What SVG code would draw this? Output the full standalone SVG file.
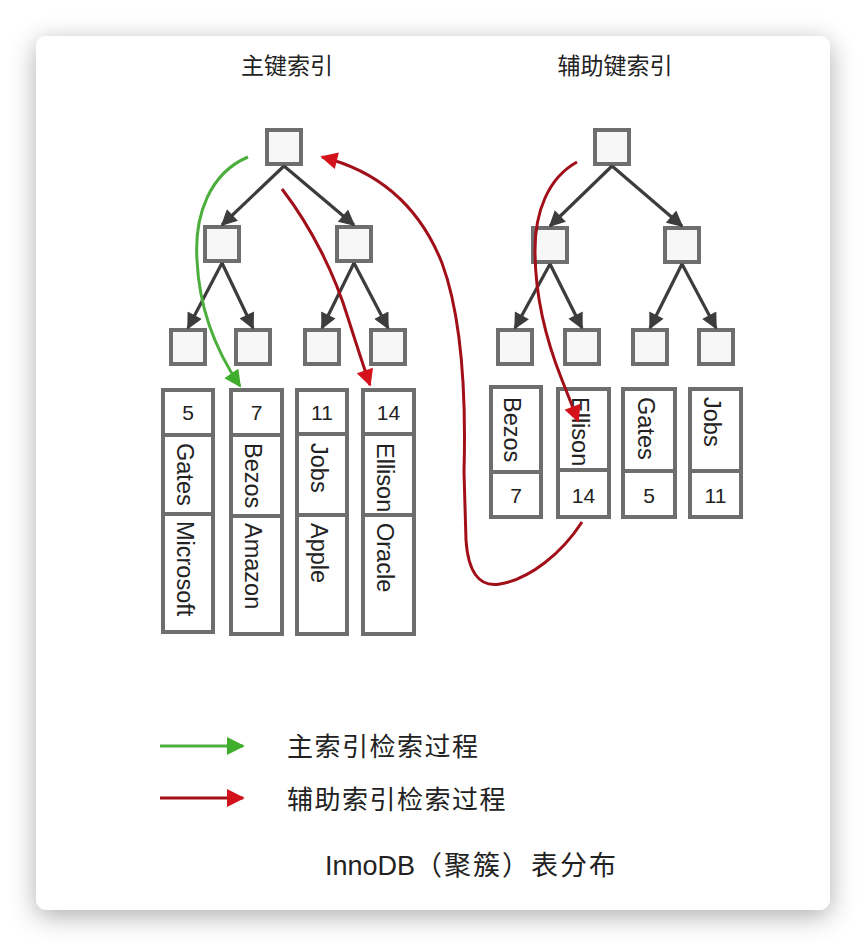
<svg xmlns="http://www.w3.org/2000/svg" width="866" height="946" viewBox="0 0 866 946">
  <defs>
    <filter id="shadow" x="-10%" y="-10%" width="120%" height="125%">
      <feDropShadow dx="0" dy="6" stdDeviation="13" flood-color="#000" flood-opacity="0.32"/>
    </filter>
    <marker id="arrGray" viewBox="0 0 10 10" refX="9" refY="5" markerWidth="17" markerHeight="16" markerUnits="userSpaceOnUse" orient="auto">
      <path d="M0,0 L10,5 L0,10 z" fill="#3c3c3c"/>
    </marker>
    <marker id="arrGreen" viewBox="0 0 10 10" refX="9" refY="5" markerWidth="18" markerHeight="17" markerUnits="userSpaceOnUse" orient="auto">
      <path d="M0,0 L10,5 L0,10 z" fill="#3fae2c"/>
    </marker>
    <marker id="arrRed" viewBox="0 0 10 10" refX="9" refY="5" markerWidth="18" markerHeight="17" markerUnits="userSpaceOnUse" orient="auto">
      <path d="M0,0 L10,5 L0,10 z" fill="#d3121c"/>
    </marker>
    <marker id="arrGreenL" viewBox="0 0 10 10" refX="9" refY="5" markerWidth="18" markerHeight="19" markerUnits="userSpaceOnUse" orient="auto">
      <path d="M0,0 L10,5 L0,10 z" fill="#3fae2c"/>
    </marker>
    <marker id="arrRedL" viewBox="0 0 10 10" refX="9" refY="5" markerWidth="18" markerHeight="19" markerUnits="userSpaceOnUse" orient="auto">
      <path d="M0,0 L10,5 L0,10 z" fill="#d3121c"/>
    </marker>
  </defs>
  <style>
    .box { fill: #f7f7f7; stroke: #6e6e6e; stroke-width: 4; }
    .rec { fill: #ffffff; stroke: #6e6e6e; stroke-width: 4; }
    .div { stroke: #6e6e6e; stroke-width: 4; }
    .edge { stroke: #3c3c3c; stroke-width: 3.2; fill: none; marker-end: url(#arrGray); }
    .green { stroke: #4cae3c; stroke-width: 3; fill: none; }
    .red { stroke: #a10f19; stroke-width: 3; fill: none; }
    .num { font-family: "Liberation Sans", Arial, sans-serif; font-size: 21px; fill: #222; text-anchor: middle; }
    .name { font-family: "Liberation Sans", Arial, sans-serif; font-size: 23.5px; fill: #222; }
    .title { font-family: "Noto Sans CJK SC", sans-serif; font-size: 23px; fill: #222; text-anchor: middle; }
    .legend { font-family: "Noto Sans CJK SC", sans-serif; font-size: 26px; fill: #222; letter-spacing: 1.5px; }
    .caption { font-family: "Liberation Sans", "Noto Sans CJK SC", sans-serif; font-size: 27px; fill: #222; }
  </style>

  <rect x="0" y="0" width="866" height="946" fill="#ffffff"/>
  <rect id="card" x="36" y="36" width="794" height="874" rx="11" ry="11" fill="#ffffff" filter="url(#shadow)"/>

  <text class="title" x="287" y="74">主键索引</text>
  <text class="title" x="615" y="74">辅助键索引</text>

  <!-- Primary index tree -->
  <g id="p-root"><rect class="box" x="267" y="130" width="34" height="34"/></g>
  <g id="p-l2a"><rect class="box" x="205" y="227" width="34" height="34"/></g>
  <g id="p-l2b"><rect class="box" x="337" y="227" width="34" height="34"/></g>
  <g id="p-l3a"><rect class="box" x="171" y="330" width="34" height="34"/></g>
  <g id="p-l3b"><rect class="box" x="236" y="330" width="34" height="34"/></g>
  <g id="p-l3c"><rect class="box" x="305" y="330" width="34" height="34"/></g>
  <g id="p-l3d"><rect class="box" x="371" y="330" width="34" height="34"/></g>

  <!-- Secondary index tree -->
  <g id="s-root"><rect class="box" x="595" y="130" width="34" height="34"/></g>
  <g id="s-l2a"><rect class="box" x="533" y="228" width="34" height="34"/></g>
  <g id="s-l2b"><rect class="box" x="665" y="228" width="34" height="34"/></g>
  <g id="s-l3a"><rect class="box" x="498" y="330" width="34" height="34"/></g>
  <g id="s-l3b"><rect class="box" x="565" y="330" width="34" height="34"/></g>
  <g id="s-l3c"><rect class="box" x="633" y="330" width="34" height="34"/></g>
  <g id="s-l3d"><rect class="box" x="699" y="330" width="34" height="34"/></g>

  <!-- Primary records -->
  <g id="p-rec-5">
    <rect class="rec" x="163" y="390" width="50" height="242"/>
    <line class="div" x1="163" y1="435" x2="213" y2="435"/>
    <line class="div" x1="163" y1="514" x2="213" y2="514"/>
    <text class="num" x="188" y="420">5</text>
    <text class="name" transform="translate(177,443) rotate(90)">Gates</text>
    <text class="name" transform="translate(177,521) rotate(90)">Microsoft</text>
  </g>
  <g id="p-rec-7">
    <rect class="rec" x="231" y="390" width="51" height="244"/>
    <line class="div" x1="231" y1="435" x2="282" y2="435"/>
    <line class="div" x1="231" y1="516" x2="282" y2="516"/>
    <text class="num" x="256.5" y="420">7</text>
    <text class="name" transform="translate(245,443) rotate(90)">Bezos</text>
    <text class="name" transform="translate(245,523) rotate(90)">Amazon</text>
  </g>
  <g id="p-rec-11">
    <rect class="rec" x="297" y="390" width="50" height="244"/>
    <line class="div" x1="297" y1="434" x2="347" y2="434"/>
    <line class="div" x1="297" y1="515" x2="347" y2="515"/>
    <text class="num" x="322" y="420">11</text>
    <text class="name" transform="translate(311,443) rotate(90)">Jobs</text>
    <text class="name" transform="translate(311,523) rotate(90)">Apple</text>
  </g>
  <g id="p-rec-14">
    <rect class="rec" x="363" y="390" width="51" height="244"/>
    <line class="div" x1="363" y1="434" x2="414" y2="434"/>
    <line class="div" x1="363" y1="515" x2="414" y2="515"/>
    <text class="num" x="388.5" y="420">14</text>
    <text class="name" transform="translate(377,443) rotate(90)">Ellison</text>
    <text class="name" transform="translate(377,523) rotate(90)">Oracle</text>
  </g>

  <!-- Secondary records -->
  <g id="s-rec-bezos">
    <rect class="rec" x="491" y="387" width="50" height="130"/>
    <line class="div" x1="491" y1="472" x2="541" y2="472"/>
    <text class="name" transform="translate(504,397) rotate(90)">Bezos</text>
    <text class="num" x="516" y="503">7</text>
  </g>
  <g id="s-rec-ellison">
    <rect class="rec" x="558" y="389" width="51" height="128"/>
    <line class="div" x1="558" y1="470" x2="609" y2="470"/>
    <text class="name" transform="translate(572,397) rotate(90)">Ellison</text>
    <text class="num" x="583.5" y="503">14</text>
  </g>
  <g id="s-rec-gates">
    <rect class="rec" x="623" y="389" width="52" height="128"/>
    <line class="div" x1="623" y1="471" x2="675" y2="471"/>
    <text class="name" transform="translate(638,397) rotate(90)">Gates</text>
    <text class="num" x="649" y="503">5</text>
  </g>
  <g id="s-rec-jobs">
    <rect class="rec" x="690" y="389" width="51" height="128"/>
    <line class="div" x1="690" y1="471" x2="741" y2="471"/>
    <text class="name" transform="translate(704,397) rotate(90)">Jobs</text>
    <text class="num" x="715.5" y="503">11</text>
  </g>

  <!-- Connectors -->
  <g id="connectors">
    <line class="edge" x1="284" y1="166" x2="222" y2="225"/>
    <line class="edge" x1="284" y1="166" x2="354" y2="225"/>
    <line class="edge" x1="222" y1="263" x2="188" y2="328"/>
    <line class="edge" x1="222" y1="263" x2="253" y2="328"/>
    <line class="edge" x1="354" y1="263" x2="322" y2="328"/>
    <line class="edge" x1="354" y1="263" x2="388" y2="328"/>

    <line class="edge" x1="612" y1="166" x2="550" y2="226"/>
    <line class="edge" x1="612" y1="166" x2="682" y2="226"/>
    <line class="edge" x1="550" y1="264" x2="515" y2="328"/>
    <line class="edge" x1="550" y1="264" x2="582" y2="328"/>
    <line class="edge" x1="682" y1="264" x2="650" y2="328"/>
    <line class="edge" x1="682" y1="264" x2="716" y2="328"/>

    <path id="green-path" class="green" marker-end="url(#arrGreen)" d="M248,157 C210,173 194,215 197,260 C199,305 212,345 240,386"/>
    <path id="red-path-1" class="red" marker-end="url(#arrRed)" d="M282,189 C312,228 335,275 348,318 C356,343 362,362 370,385"/>
    <path id="red-path-2" class="red" marker-end="url(#arrRed)" d="M582,522 C562,553 530,579 500,584 C478,588 468,570 466,540 L464,472 C466,400 463,320 442,263 C420,208 382,172 322,157"/>
    <path id="red-path-3" class="red" marker-end="url(#arrRed)" d="M577,162 C548,178 535,212 535,250 C535,300 548,345 562,380 C568,395 573,408 578,421"/>
  </g>

  <!-- Legend -->
  <g id="legend">
    <line class="green" x1="160" y1="746" x2="243" y2="746" marker-end="url(#arrGreenL)"/>
    <line class="red" x1="160" y1="798" x2="243" y2="798" marker-end="url(#arrRedL)"/>
    <text class="legend" x="287" y="756">主索引检索过程</text>
    <text class="legend" x="287" y="809">辅助索引检索过程</text>
  </g>

  <text class="caption" x="325" y="875">InnoDB<tspan font-family="Noto Sans CJK SC, sans-serif" letter-spacing="2">（聚簇）表分布</tspan></text>
</svg>
